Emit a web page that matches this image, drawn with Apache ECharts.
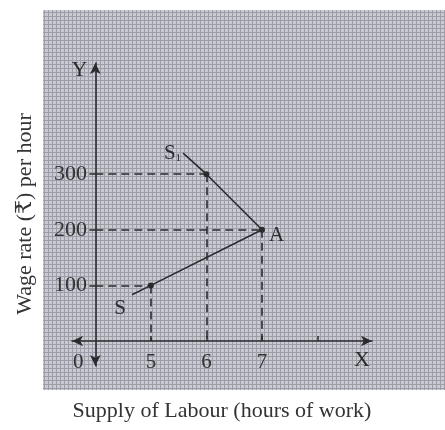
<!DOCTYPE html>
<html>
<head>
<meta charset="utf-8">
<title>Supply of Labour</title>
<script src="https://cdn.jsdelivr.net/npm/echarts@6/dist/echarts.min.js"></script>
<style>
    html, body {margin: 0; padding: 0; background: #fff;}
    #main {width: 445px; height: 430px;}
</style>
</head>
<body>
<div id="main"></div>
<script>
    // backward bending supply curve: S -> A -> S1
    var curveHours = [4.66, 5, 7, 6, 5.58];
    var curveWage = [83, 100, 200, 300, 338];
    var curveNames = ['S', '', 'A', '', 'S1'];

    // points that get dashed guide lines
    var markHours = [5, 7, 6];
    var markWage = [100, 200, 300];

    // axis is broken after the origin, so value 4 stands for "0"
    var xTicks = [5, 6, 7, 8];
    var xLabels = [4, 5, 6, 7];
    var yTicks = [100, 200, 300];

    var serif = '"Liberation Serif", "DejaVu Serif", serif';
    var ink = '#2b2b2e';

    // fine graph paper texture of the scan
    var tex = document.createElement('canvas');
    tex.width = 4;
    tex.height = 4;
    var c = tex.getContext('2d');
    c.fillStyle = '#cacad2';
    c.fillRect(0, 0, 4, 4);
    c.fillStyle = '#9d9da8';
    c.fillRect(0, 0, 4, 1);
    c.fillRect(0, 0, 1, 4);

    var chart = echarts.init(document.getElementById('main'));

    var guides = [];
    for (var i = 0; i < markHours.length; i++) {
        guides.push([{coord: [4, markWage[i]]}, {coord: [markHours[i], markWage[i]]}]);
        guides.push([{coord: [markHours[i], markWage[i]]}, {coord: [markHours[i], 0]}]);
    }

    var curveData = curveHours.map(function (h, i) {
        var isMark = markHours.indexOf(h) >= 0 && markWage.indexOf(curveWage[i]) >= 0;
        var item = {value: [h, curveWage[i]], symbolSize: isMark ? 6 : 0};
        if (curveNames[i] === 'S') {
            item.label = {show: true, formatter: 'S', position: 'left', distance: 6, offset: [0, 14]};
        } else if (curveNames[i] === 'A') {
            item.label = {show: true, formatter: 'A', position: 'right', distance: 4, offset: [0, 6]};
        } else if (curveNames[i] === 'S1') {
            item.label = {
                show: true, formatter: 'S{s|1}', position: 'left', distance: 2,
                rich: {s: {fontSize: 11, fontFamily: serif, color: ink, padding: [10, 0, 0, 0]}}
            };
        }
        return item;
    });

    var option = {
        animation: false,
        backgroundColor: '#fff',
        textStyle: {fontFamily: serif},
        graphic: [
            {
                type: 'rect', z: -10, silent: true,
                shape: {x: 43, y: 10, width: 402, height: 380},
                style: {fill: {image: tex, repeat: 'repeat'}}
            },
            {
                type: 'text', x: 25, y: 214, rotation: Math.PI / 2,
                style: {
                    text: 'Wage rate (\u20b9) per hour', font: '22px ' + serif,
                    fill: '#333', align: 'center', verticalAlign: 'middle'
                }
            },
            {
                type: 'text', x: 222, y: 411,
                style: {
                    text: 'Supply of Labour (hours of work)', font: '22px ' + serif,
                    fill: '#333', align: 'center', verticalAlign: 'middle'
                }
            }
        ],
        grid: {left: 72, top: 63, width: 300, height: 303},
        xAxis: [{
            type: 'value', min: 3.58, max: 8.98,
            splitLine: {show: false},
            name: 'X', nameLocation: 'end', nameGap: -18,
            nameTextStyle: {fontSize: 22, color: ink, verticalAlign: 'top', padding: [8, 0, 0, 0]},
            axisLine: {
                onZero: true, symbol: ['arrow', 'arrow'], symbolSize: [8, 11],
                lineStyle: {color: ink, width: 1.6}
            },
            axisTick: {show: true, inside: true, length: 5, customValues: xTicks, lineStyle: {color: ink, width: 1.5}},
            // labels stay at the grid edge, pull them up to the axis line
            axisLabel: {
                customValues: xLabels, margin: -14, fontSize: 21, color: '#333',
                formatter: function (v) { return v === 4 ? '{o|0}' : String(v); },
                rich: {o: {fontSize: 21, color: '#333', padding: [0, 34, 0, 0]}}
            }
        }, {
            // helper axis: its zero sits at the origin so the Y axis can stand there
            type: 'value', min: -0.42, max: 4.98, show: false
        }],
        yAxis: {
            type: 'value', min: -45, max: 500,
            splitLine: {show: false},
            name: 'Y', nameLocation: 'end', nameGap: -18,
            nameTextStyle: {fontSize: 22, color: ink, align: 'right', verticalAlign: 'bottom', padding: [0, 8, 0, 0]},
            axisLine: {
                onZero: true, onZeroAxisIndex: 1, symbol: ['arrow', 'arrow'], symbolSize: [8, 11],
                lineStyle: {color: ink, width: 1.6}
            },
            axisTick: {show: true, length: 6, customValues: yTicks, lineStyle: {color: ink, width: 1.5}},
            axisLabel: {customValues: yTicks, margin: -15, fontSize: 22, color: '#333'}
        },
        series: [{
            type: 'line',
            data: curveData,
            symbol: 'circle',
            itemStyle: {color: ink},
            lineStyle: {color: ink, width: 1.6},
            label: {fontSize: 21, color: ink, fontFamily: serif},
            z: 5,
            markLine: {
                silent: true,
                symbol: ['none', 'none'],
                label: {show: false},
                lineStyle: {color: ink, width: 1.6, type: [8, 5]},
                data: guides
            }
        }]
    };

    chart.setOption(option);
</script>
</body>
</html>
